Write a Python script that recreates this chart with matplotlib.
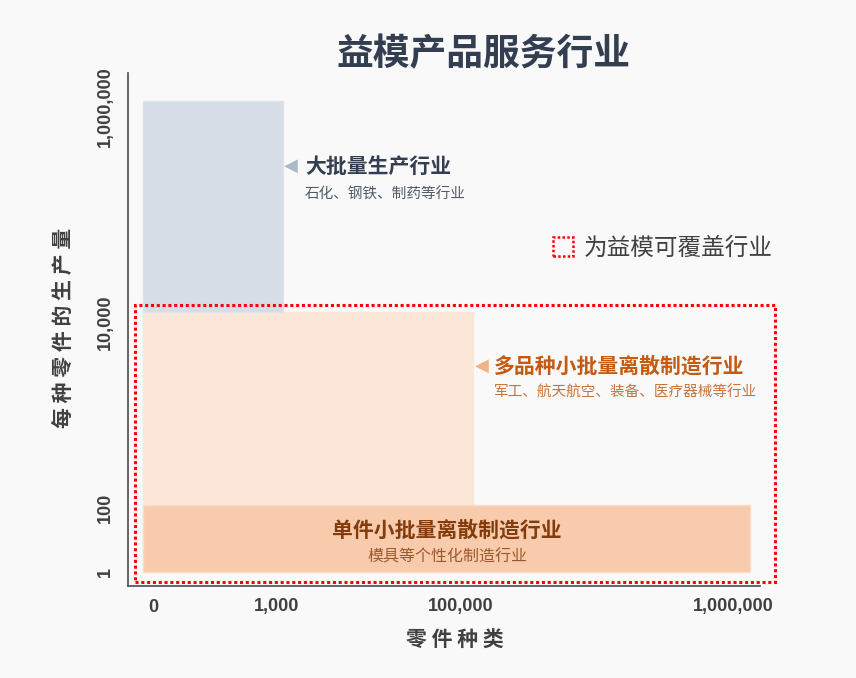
import numpy as np
import matplotlib
matplotlib.use("Agg")
import matplotlib.pyplot as plt
from matplotlib.patches import Rectangle, Patch

plt.rcParams['font.family'] = ['Noto Sans CJK SC', 'DejaVu Sans']

# axis ticks (values)
X_TICKS = [0, 1000, 100000, 1000000]
Y_TICKS = [1, 100, 10000, 1000000]

# industry blocks: (x0, x1), (y0, y1) in data units
MASS_X = (-80, 4200)
MASS_Y = (12400, 1140000)
MULTI_X = (-80, 140000)
MULTI_Y = (1, 12400)
SINGLE_X = (-80, 1056000)
SINGLE_Y = (1, 108)
COVER_X = (-145, 1139000)
COVER_Y = (0.49, 14400)

TITLE = "益模产品服务行业"
MASS_NAME = "大批量生产行业"
MASS_SUB = "石化、钢铁、制药等行业"
MULTI_NAME = "多品种小批量离散制造行业"
MULTI_SUB = "军工、航天航空、装备、医疗器械等行业"
SINGLE_NAME = "单件小批量离散制造行业"
SINGLE_SUB = "模具等个性化制造行业"
COVER_NAME = "为益模可覆盖行业"
X_LABEL = "零 件 种 类"
Y_LABEL = "每 种 零 件 的 生 产 量"

# ---- layout (pixels of the 856x678 canvas) ----
W, H = 856, 678
X_TICK_PX = [153, 277, 461, 733]
Y_TICK_PX = [H - 572, H - 508, H - 322, H - 107]
AX_L, AX_R, AX_T, AX_B = 128, 760, 73, 586


def piecewise(v, xp, fp):
    v = np.asarray(v, dtype=float)
    xp = np.asarray(xp, dtype=float)
    fp = np.asarray(fp, dtype=float)
    out = np.interp(v, xp, fp)
    lo = (fp[1] - fp[0]) / (xp[1] - xp[0])
    hi = (fp[-1] - fp[-2]) / (xp[-1] - xp[-2])
    out = np.where(v < xp[0], fp[0] + (v - xp[0]) * lo, out)
    out = np.where(v > xp[-1], fp[-1] + (v - xp[-1]) * hi, out)
    return out


def x_fwd(v):
    return piecewise(v, X_TICKS, X_TICK_PX)


def x_inv(p):
    return piecewise(p, X_TICK_PX, X_TICKS)


LOG_Y = np.log10(Y_TICKS)


def y_fwd(v):
    return piecewise(np.log10(np.clip(v, 1e-9, None)), LOG_Y, Y_TICK_PX)


def y_inv(p):
    return 10 ** piecewise(p, Y_TICK_PX, LOG_Y)


def fx(px):
    return px / W


def fy(py):
    return 1 - py / H


BG = '#f9f9f9'
fig = plt.figure(figsize=(W / 100, H / 100), dpi=100, facecolor=BG)
ax = fig.add_axes([fx(AX_L), fy(AX_B), (AX_R - AX_L) / W, (AX_B - AX_T) / H])
ax.set_facecolor(BG)
ax.set_xscale('function', functions=(x_fwd, x_inv))
ax.set_yscale('function', functions=(y_fwd, y_inv))
ax.set_xlim(float(x_inv(AX_L)), float(x_inv(AX_R)))
ax.set_ylim(float(y_inv(H - AX_B)), float(y_inv(H - AX_T)))

for s in ['top', 'right']:
    ax.spines[s].set_visible(False)
for s in ['left', 'bottom']:
    ax.spines[s].set_color('#595959')
    ax.spines[s].set_linewidth(1.3)


def block(xr, yr, color, edge, z):
    ax.add_patch(Rectangle((xr[0], yr[0]), xr[1] - xr[0], yr[1] - yr[0],
                           facecolor=color, edgecolor=edge, lw=1.0, zorder=z))


block(MULTI_X, MULTI_Y, '#fce6d8', '#fce6d8', 1)
block(MASS_X, MASS_Y, '#d6dde7', '#dde3eb', 1)
block(SINGLE_X, SINGLE_Y, '#f8cbad', '#fbdcc8', 2)

ax.add_patch(Rectangle((COVER_X[0], COVER_Y[0]), COVER_X[1] - COVER_X[0],
                       COVER_Y[1] - COVER_Y[0], fill=False, edgecolor='#ff0000',
                       lw=2.2, linestyle=(0, (1, 0.9)), zorder=3, clip_on=False))

num_font = ['Liberation Sans', 'DejaVu Sans']
ax.set_xticks(X_TICKS)
ax.set_xticklabels([f"{v:,}" for v in X_TICKS], fontsize=13, fontweight='bold',
                   color='#404040', family=num_font)
ax.set_yticks(Y_TICKS)
ax.set_yticklabels([f"{v:,}" for v in Y_TICKS], fontsize=13, fontweight='bold',
                   color='#404040', family=num_font, rotation=90, va='center')
ax.tick_params(axis='x', length=0, pad=9)
ax.tick_params(axis='y', length=0, pad=10)
ax.minorticks_off()

# texts
fig.text(fx(483), fy(55), TITLE, fontsize=26.5, fontweight='bold', color='#333f50',
         ha='center', va='center')

fig.text(fx(291), fy(166), "◀", family='DejaVu Sans', fontsize=13, color='#adb9ca',
         ha='center', va='center')
fig.text(fx(305), fy(166), MASS_NAME, fontsize=15, fontweight='bold', color='#333f50',
         ha='left', va='center')
fig.text(fx(305), fy(195), MASS_SUB, fontsize=10.5, color='#505a68',
         ha='left', va='center')

fig.text(fx(482), fy(366), "◀", family='DejaVu Sans', fontsize=13, color='#f4b183',
         ha='center', va='center')
fig.text(fx(494), fy(366), MULTI_NAME, fontsize=15, fontweight='bold', color='#c55a11',
         ha='left', va='center')
fig.text(fx(494), fy(393), MULTI_SUB, fontsize=10.5, color='#c8733a',
         ha='left', va='center')

fig.text(fx(447), fy(530), SINGLE_NAME, fontsize=15, fontweight='bold', color='#843c0c',
         ha='center', va='center')
fig.text(fx(447), fy(557), SINGLE_SUB, fontsize=11.5, color='#9c5a2c',
         ha='center', va='center')

fig.text(fx(63), fy(328), Y_LABEL, fontsize=15, fontweight='bold', color='#404040',
         rotation=90, ha='center', va='center')
fig.text(fx(455), fy(640), X_LABEL, fontsize=15, fontweight='bold', color='#404040',
         ha='center', va='center')

handle = Patch(facecolor='none', edgecolor='#ff0000', lw=1.8, linestyle=(0, (1, 0.9)))
fig.legend(handles=[handle], labels=[COVER_NAME], loc='center left',
           bbox_to_anchor=(fx(553), fy(248)), frameon=False, fontsize=17,
           handlelength=0.85, handleheight=0.85, handletextpad=0.45,
           borderpad=0, borderaxespad=0, labelcolor='#404040')

fig.savefig("out.png", dpi=100, facecolor=BG)
